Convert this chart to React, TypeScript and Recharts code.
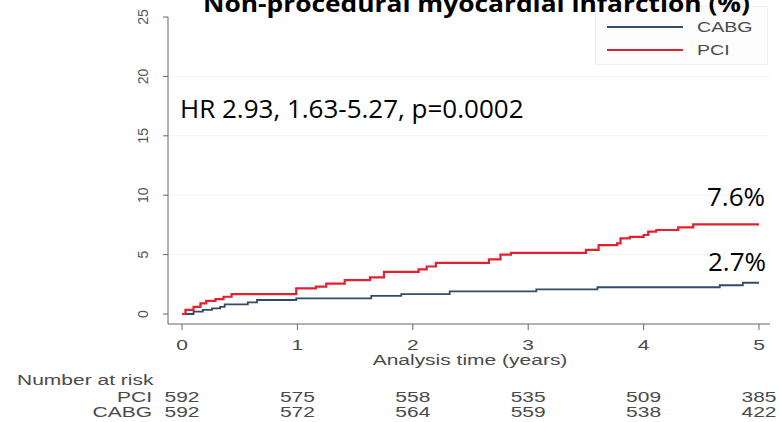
import { LineChart, Line, XAxis, YAxis, CartesianGrid } from "recharts";

// Kaplan-Meier style cumulative incidence (%)
const pciTimes = [0, 0.03, 0.1, 0.16, 0.21, 0.29, 0.36, 0.43, 0.99, 1.16, 1.25, 1.41, 1.63, 1.75, 2.05, 2.12, 2.2, 2.66, 2.76, 2.85, 3.5, 3.61, 3.77, 3.8, 3.88, 4.0, 4.04, 4.11, 4.3, 4.43, 5.0];
const pciValues = [0, 0.35, 0.6, 0.9, 1.1, 1.25, 1.45, 1.68, 2.16, 2.3, 2.55, 2.85, 3.08, 3.55, 3.75, 4.0, 4.3, 4.6, 5.0, 5.15, 5.4, 5.8, 5.95, 6.37, 6.5, 6.65, 6.93, 7.07, 7.3, 7.55, 7.55];

const cabgTimes = [0, 0.1, 0.18, 0.26, 0.33, 0.37, 0.57, 0.65, 0.99, 1.64, 1.9, 2.32, 3.07, 3.6, 4.66, 4.86, 5.0];
const cabgValues = [0, 0.2, 0.34, 0.48, 0.6, 0.81, 0.98, 1.18, 1.32, 1.52, 1.68, 1.9, 2.07, 2.25, 2.42, 2.63, 2.63];

const xTicks = [0, 1, 2, 3, 4, 5];
const yTicks = [0, 5, 10, 15, 20, 25];
const pciAtRisk = [592, 575, 558, 535, 509, 385];
const cabgAtRisk = [592, 572, 564, 559, 538, 422];

const pciData = pciTimes.map((t, i) => ({ t, v: pciValues[i] }));
const cabgData = cabgTimes.map((t, i) => ({ t, v: cabgValues[i] }));

const RED = "#e3202b";
const NAVY = "#2f4c68";
const GRAY = "#4a4a4a";
const STATA_FONT = "'Liberation Sans', Arial, sans-serif";
const PPT_FONT = "'Open Sans', sans-serif";

// Stata text in the source image is stretched horizontally
const SText = ({ x, y, children, anchor = "middle", size = 15, fill = GRAY }: any) => (
  <text
    transform={`translate(${x},${y}) scale(1.4,1)`}
    textAnchor={anchor}
    fontSize={size}
    fill={fill}
    fontFamily={STATA_FONT}
  >
    {children}
  </text>
);

const XTick = (props: any) => {
  const { x, y, payload } = props;
  const i = xTicks.indexOf(payload.value);
  return (
    <g>
      <SText x={x} y={y + 18}>{payload.value}</SText>
      <SText x={x} y={y + 70}>{pciAtRisk[i]}</SText>
      <SText x={x} y={y + 85}>{cabgAtRisk[i]}</SText>
    </g>
  );
};

const YTick = (props: any) => {
  const { x, y, payload } = props;
  return (
    <text
      x={x}
      y={y}
      transform={`rotate(-90 ${x} ${y})`}
      textAnchor="middle"
      fontSize={14}
      fill="#555"
      fontFamily={STATA_FONT}
    >
      {payload.value}
    </text>
  );
};

const series = [
  { name: "CABG", color: NAVY, width: 1.8 },
  { name: "PCI", color: RED, width: 2 },
];

export default function App() {
  return (
    <div style={{ position: "absolute", left: 0, top: 0, width: 779, height: 422, background: "#fff" }}>
      <LineChart width={779} height={422} margin={{ top: 17, right: 9, left: 128, bottom: 68 }}>
        <CartesianGrid vertical={false} horizontalValues={[5, 10, 15, 20]} stroke="#f2f2f2" />
        <XAxis
          type="number"
          dataKey="t"
          domain={[0, 5]}
          ticks={xTicks}
          allowDuplicatedCategory={false}
          padding={{ left: 14, right: 11 }}
          height={30}
          tickSize={6}
          tickMargin={2}
          stroke="#666"
          tick={<XTick />}
        />
        <YAxis
          type="number"
          dataKey="v"
          domain={[0, 25]}
          ticks={yTicks}
          padding={{ bottom: 10, top: 0 }}
          width={40}
          tickSize={5}
          tickMargin={15}
          stroke="#666"
          tick={<YTick />}
        />
        <Line
          data={cabgData}
          dataKey="v"
          name="CABG"
          type="stepAfter"
          stroke={NAVY}
          strokeWidth={1.8}
          dot={false}
          isAnimationActive={false}
        />
        <Line
          data={pciData}
          dataKey="v"
          name="PCI"
          type="stepAfter"
          stroke={RED}
          strokeWidth={2.2}
          dot={false}
          isAnimationActive={false}
        />
      </LineChart>
      <svg width={779} height={422} style={{ position: "absolute", left: 0, top: 0, pointerEvents: "none" }}>
        <rect x={595.5} y={6.5} width={172} height={58} fill="#fdfdfd" stroke="#f0f0f0" />
        {series.map((s, i) => (
          <g key={s.name}>
            <line x1={607} x2={683} y1={27 + i * 23} y2={27 + i * 23} stroke={s.color} strokeWidth={s.width} />
            <SText x={697} y={32 + i * 23} anchor="start" size={14}>{s.name}</SText>
          </g>
        ))}
        <text x={203} y={12} fontSize={24} fontWeight="bold" fontFamily={PPT_FONT} fill="#000" textLength={547} lengthAdjust="spacingAndGlyphs">
          Non-procedural myocardial infarction (%)
        </text>
        <text x={180} y={118} fontSize={26} fontFamily={PPT_FONT} fill="#000">
          HR 2.93, 1.63-5.27, p=0.0002
        </text>
        <text x={707} y={206} fontSize={26} fontFamily={PPT_FONT} fill="#000">7.6%</text>
        <text x={708} y={271} fontSize={26} fontFamily={PPT_FONT} fill="#000">2.7%</text>
        <SText x={17} y={385} anchor="start">Number at risk</SText>
        <SText x={152} y={402} anchor="end">PCI</SText>
        <SText x={152} y={417} anchor="end">CABG</SText>
        <SText x={470} y={365}>Analysis time (years)</SText>
      </svg>
    </div>
  );
}
